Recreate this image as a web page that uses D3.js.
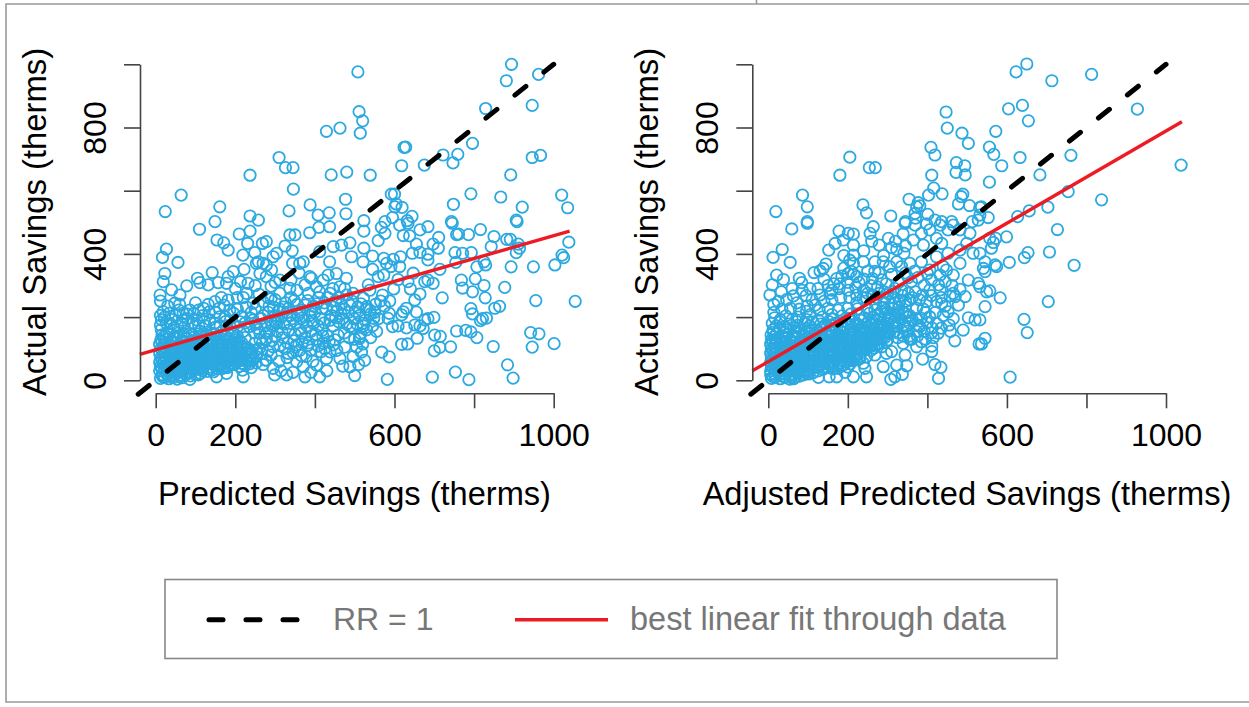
<!DOCTYPE html>
<html>
<head>
<meta charset="utf-8">
<script src="https://cdn.jsdelivr.net/npm/d3@7"></script>
<style>
body { margin: 0; background: #fff; }
text { font-family: "Liberation Sans", sans-serif; }
</style>
</head>
<body>
<svg id="chart" width="1249" height="707"></svg>
<script>
// values, in therms
const ticks = [0, 200, 400, 600, 800, 1000];
const xLabels = [0, 200, 600, 1000];
const yLabels = [0, 400, 800];
const ruleLine = [[-44, -44], [1000, 1000]];
const fitLeft = [[-40, 82], [1040, 472]];
const fitRight = [[-40, 30], [1040, 818]];

const leftSparse = [[24,534],[64,586],[161,549],[149,502],[237,649],[237,520],[258,507],[310,705],[326,673],[345,673],[346,605],[335,536],[388,555],[408,523],[436,530],[478,527],[477,573],[441,650],[480,659],[429,788],[463,798],[508,976],[511,850],[520,821],[514,782],
[894,1000],[881,948],[962,968],[946,870],[829,860],[628,738],[624,737],[796,750],[722,713],[759,715],[747,688],[675,681],[618,679],[539,649],[946,705],[967,712],[892,650],[1020,586],[1035,546],[921,548],[867,580],[792,590],[748,557],[743,502],[906,507],[600,589],[592,589],[604,558],[601,549],[619,547],[644,519],[595,515],[576,502],[632,505],[523,505],
[1038,437],[1021,396],[1025,388],[1003,365],[949,359],[893,359],[1054,250],[955,252],[911,431],[906,404],[914,418],[882,446],[891,446],[850,455],[843,423],[816,477],[786,461],[761,463],[756,461],[745,497],[908,502],[793,404],[771,402],[752,404],[754,373],[829,365],[825,375],[807,359],[803,321],[768,317],[771,292],[796,280],[825,300],[877,294],[828,261],[720,261],[792,227],[796,210],[852,228],[864,234],[831,197],[816,189],[821,195],[756,156],[779,158],[792,153],[807,135],[848,107],[942,151],[963,147],[946,105],[1001,116],[884,49],[898,7],[787,2],[753,26],[695,10],[582,3],[568,89],[587,74],[525,63],[517,89],[741,106],[714,104],[700,93],[701,143],[715,139],[657,133],[633,115],[618,114],[672,164],[664,172],[676,191],[699,199],[684,195],[655,216],[630,228],[622,217],[618,207],[587,212],[584,196],[595,170],[609,172],[630,166],[651,175],[548,196],[520,180],[588,251],[565,251],[570,270],[651,254],[664,273],[640,289],[598,289],[609,319],[634,312],[647,339],[676,312],[684,317],[697,307],[714,351],[684,381],[684,399],[664,405],[645,402],[697,431],[710,418],[711,452],[655,431],[664,476],[684,486],[638,457],[622,458],[613,491],[634,497],[615,391],[613,360],[597,383],[573,386],[580,370],[591,360],[545,393],[545,351],[573,333],[559,328],[521,375],[523,418],[559,442],[576,465],[567,484],[523,472],[534,302],[530,233],[538,222],[513,138],
[110,478],[154,444],[171,435],[182,412],[210,463],[237,472],[231,433],[27,415],[17,389],[56,373],[219,396],[249,404],[268,433],[278,439],[337,460],[350,460],[387,467],[410,484],[437,486],[325,425],[343,410],[304,402],[295,391],[412,407],[446,423],[467,428],[488,435],[492,391],[437,375],[371,375],[344,370],[258,375],[278,365],[222,351],[195,344],[142,341],[23,338],[19,312],[11,270],[12,251],[105,323],[111,309],[132,302],[78,299],[253,370],[270,370],[291,349],[362,370]];

const leftUpper = [[40,286],[61,270],[48,244],[157,309],[182,328],[178,307],[213,312],[232,307],[228,275],[262,338],[278,328],[312,317],[337,291],[387,328],[375,302],[433,333],[421,317],[454,338],[479,323],[463,296],[404,296],[391,323],[496,275],[182,254],[186,222],[149,249],[120,228],[86,222],[69,212],[19,217],[15,191],[36,180],[65,180],[103,191],[136,191],[161,201],[212,185],[245,191],[245,244],[14,160],[28,150],[45,165],[58,150],[72,168],[85,148],[98,170],[112,155],[125,172],[138,150],[150,168],[165,152],[178,172],[192,150],[205,168],[220,155],[235,170],[248,150],[22,200],[50,205],[80,195],[118,205],[150,215],[175,200],[205,225],[240,215],[255,165],[265,195],[283,215],[300,185],[30,235],[100,245],[205,262],[260,272],
[12,175],[26,182],[40,192],[55,172],[68,190],[92,182],[108,172],[122,186],[148,180],[162,172],[176,186],[196,176],[225,182],[238,196],[252,178],[12,205],[34,212],[58,222],[78,210],[96,212],[108,222],[134,216],[160,228],[172,238],[196,212],[216,202],[228,232],[250,226],[270,248],[290,258],[60,240],[132,240],[165,262],[220,262],[340,318],[360,340],[300,310],[250,300],[200,290],[290,298]];

const leftBand = [[279,149],[295,106],[278,64],[295,38],[299,17],[329,17],[333,85],[354,112],[375,11],[371,43],[412,11],[404,48],[429,69],[463,69],[446,112],[488,43],[496,75],[458,143],[488,170],[396,180],[366,149],[337,180],[304,180],[421,117],[391,96],[354,59],[220,11],[218,32],[178,22],[153,11],[145,27],[174,43],[107,17],[86,3],[115,38],[237,64],[253,75],[276,64],
[262,150],[275,172],[288,190],[300,205],[312,225],[326,245],[340,262],[355,240],[368,222],[382,252],[396,235],[410,262],[424,245],[438,275],[452,252],[466,240],[480,270],[494,250],[508,232],[522,260],[538,285],[552,240],[270,205],[285,235],[300,255],[316,200],[330,215],[344,195],[358,205],[372,190],[386,205],[400,215],[414,195],[428,225],[442,205],[456,220],[470,195],[484,215],[498,195],[512,205],[526,190],[540,210],[278,130],[292,125],[306,155],[320,135],[334,158],[348,125],[362,160],[376,135],[390,155],[404,130],[418,158],[432,140],[446,172],[460,185],[474,150],[500,130],[515,148],[530,160],[290,80],[310,60],[325,100],[345,88],[362,95],[378,75],[395,60],[415,90],[438,90],[455,95],[475,105],[505,105],[520,115],[540,135],[555,155],[470,45],[510,50],[260,100],[270,50],[315,30],[345,25],[390,25],[430,30],[500,15],
[308,218],[320,232],[334,228],[348,252],[362,215],[376,238],[390,222],[404,242],[418,228],[432,262],[446,232],[460,262],[474,225],[488,238],[502,218],[516,242],[296,232],[292,172],[306,192],[322,178],[338,205],[352,182],[366,196],[380,172],[394,188],[408,172],[424,182],[438,190],[452,198],[466,210],[480,178],[506,178],[522,172],[318,150],[332,118],[350,145],[368,120],[384,118],[402,145],[420,140],[436,122],[450,128],[486,135],[268,118],[282,92],[300,138],[312,110],[330,72],[350,105],[366,78],[382,110],[408,108],[425,100],[550,215],[530,225],[495,165],[512,132],[545,172],[560,195],[575,235],[282,262],[312,275],[355,285],[384,275],[412,280],[445,290],[475,290],[262,128],[266,85],[285,155]];

const leftCore = [[12,6],[22,10],[33,5],[44,9],[54,4],[66,8],[16,18],[28,20],[40,17],[52,21],[63,16],[75,19],[87,14],[100,18],[112,22],
[10,30],[21,33],[33,28],[45,32],[57,29],[69,34],[81,27],[93,31],[105,35],[118,30],[130,28],[142,33],[155,36],[168,38],
[12,44],[24,46],[37,42],[49,47],[61,43],[73,48],[85,41],[98,46],[110,44],[122,48],[135,42],[147,47],[160,49],[172,45],[185,47],[198,50],[210,44],[224,48],[236,52],
[10,58],[21,60],[33,56],[45,61],[57,57],[69,62],[81,55],[93,60],[105,58],[117,62],[129,56],[141,61],[153,59],[166,63],[178,57],[190,62],[203,59],[215,63],[228,60],[241,62],
[13,72],[25,74],[37,70],[49,75],[61,71],[73,76],[85,69],[97,74],[109,72],[121,76],[133,70],[145,75],[157,73],[170,77],[182,71],[194,76],[207,73],[219,77],[232,74],[245,72],
[10,86],[22,88],[34,84],[46,89],[58,85],[70,90],[82,83],[94,88],[106,86],[118,90],[130,84],[142,89],[154,87],[167,91],[179,85],[191,90],[204,87],[216,91],[229,88],[242,90],
[13,100],[25,102],[37,98],[49,103],[61,99],[73,104],[85,97],[97,102],[109,100],[121,104],[133,98],[145,103],[157,101],[170,105],[182,99],[194,104],[207,101],[219,105],[232,102],
[10,114],[22,116],[34,112],[46,117],[58,113],[70,118],[82,111],[94,116],[106,114],[118,118],[130,112],[142,117],[154,115],[167,119],[179,113],[191,118],[204,115],[216,119],
[13,128],[26,130],[39,126],[52,131],[65,127],[78,132],[91,126],[104,130],[117,128],[130,132],[143,127],[156,131],[170,129],[184,133],[198,128],
[16,144],[34,146],[52,141],[70,147],[92,143],[110,147],[130,142],[150,146],[172,144],[195,148],[225,135],
[17,12],[38,12],[60,12],[82,22],[15,38],[39,37],[63,38],[87,36],[111,38],[136,36],[160,42],[180,40],[18,52],[43,53],[67,53],[91,53],[116,54],[141,52],[165,55],[192,54],[217,54],[240,40],[16,65],[39,66],[63,67],[87,65],[111,66],[135,64],[160,67],[184,67],[210,68],[236,67],[19,80],[43,80],[67,81],[91,79],[115,81],[139,80],[163,82],[188,81],[212,83],[238,81],[16,94],[40,94],[64,95],[88,93],[112,95],[136,93],[160,96],[185,95],[210,96],[236,96],[19,108],[43,108],[67,109],[91,108],[115,109],[139,108],[163,110],[188,109],[213,111],[16,122],[40,122],[64,123],[88,121],[112,123],[136,122],[160,124],[185,123],[210,125],[20,137],[45,137],[71,139],[98,137],[124,138],[150,137],[177,138],[205,140],[250,118],[252,96],[252,55]];

const rightSparse = [[19,534],[86,586],[98,549],[98,502],[180,649],[205,706],[254,673],[269,673],[238,555],[247,530],[308,520],[345,502],[354,573],[377,562],[373,549],[381,552],[369,528],[370,513],[401,525],[419,507],[436,502],[461,502],[403,586],[416,608],[437,590],[411,649],[409,737],[419,713],[473,689],[494,679],[472,658],[495,650],[489,589],[485,581],[478,558],[506,553],[532,547],[513,502],[528,507],[447,849],[450,798],[487,782],[503,750],
[650,1001],[623,976],[713,948],[813,968],[928,858],[639,870],[604,859],[654,821],[572,788],[556,738],[567,715],[633,705],[587,679],[761,712],[556,627],[683,650],[1038,681],[754,597],[838,571],[703,548],[656,536],[627,518],[553,515],[536,549],[532,523],
[727,477],[599,454],[572,449],[566,436],[561,418],[557,449],[653,404],[644,388],[707,406],[769,364],[606,373],[574,360],[570,365],[545,375],[545,344],[541,354],[532,402],[557,283],[549,280],[583,261],[545,233],[704,249],[643,193],[651,151],[545,133],[536,115],[608,10],[532,296],[532,191],
[59,479],[98,497],[35,414],[12,389],[55,373],[21,333],[10,302],[38,319],[4,270],[33,280],[63,267],[78,323],[84,309],[115,341],[130,346],[145,368],[138,354],[152,412],[168,433],[178,472],[189,444],[201,465],[214,463],[214,428],[214,396],[214,370],[239,375],[201,338],[222,328],[256,465],[264,486],[279,428],[302,449],[323,414],[339,463],[344,497],[268,375],[289,375],[341,402],[323,375],[356,370],[365,444],[385,465],[390,428],[406,476],[423,449],[436,433],[452,476],[482,476],[507,465],[369,491],[398,495],[432,491],[465,491],[499,433],[515,402],[482,412],[452,402],[482,370],[448,349],[423,391],[385,375],[406,349],[432,333],[465,333],[503,317],[528,307],[482,288],[457,267],[478,238],[452,217],[432,286],[406,286],[423,249],[398,249],[436,243],[503,198],[520,191],[490,159],[469,125],[530,115],[427,149],[423,180],[406,201],[385,196],[381,170],[356,180],[344,212],[373,228],[356,254],[331,254],[314,280],
[411,108],[411,91],[385,122],[373,106],[356,130],[339,117],[344,80],[388,67],[419,50],[434,41],[428,6],[323,48],[289,43],[348,46],[337,19],[318,11],[308,3],[310,91],[297,85],[268,80],[247,11],[214,11],[193,25],[172,11],[153,11],[126,9],[63,5],[101,20],[239,54],[230,69],[247,75],[243,38],[260,122],[289,138],[281,159],[297,122],[285,106]];

const rightUpper = [[14,240],[46,255],[72,245],[95,268],[125,290],[150,300],[172,322],[190,355],[208,345],[228,310],[250,345],[262,322],[278,340],[296,305],[310,335],[328,310],[345,340],[360,312],[376,325],[392,300],[410,318],[428,302],[445,312],[462,300],[240,285],[258,300],[275,295],[292,280],[110,255],[130,270],[155,275],[178,290],[200,285],[222,270],[238,260],[14,215],[34,225],[56,228],[78,225],[98,235],[118,238],[140,250],[160,255],[182,262],[205,262],[222,245],[245,262],[262,270],[280,275],[300,275],[318,290],[335,285],[352,275],[370,280],[388,270],[270,240],[290,245],[310,240],[328,230],[345,235],[390,225],[420,215],[445,235],[470,265],[300,215],[320,205],[338,215],[355,205],[372,195],[395,215],[412,165],[392,155],[372,155],[350,155],[325,180],[345,170],[305,190],[290,175],[305,150],[325,150],[340,140],[360,130],[375,140],[395,130],[415,135],
[165,305],[185,330],[215,335],[240,320],[268,345],[285,318],[305,360],[335,360],[352,325],[368,345],[400,338],[440,360],[240,410],[260,440],[290,395],[310,420],[205,380],[190,395],[320,440],[345,425],[25,250],[60,290],[85,285],[105,290],[140,320],[160,285],[180,305],[200,310],[220,295],[250,275],[272,262],[295,262],[315,262],[338,268],[362,262],[380,255],[345,250],[410,268],[435,262],[362,190],[378,175],[400,182],[355,140],[325,135],[440,205],[465,195],[455,175],[435,165],[458,155],[410,150],[465,275],[495,265]];

const rightCore = [[8,6],[18,10],[30,5],[42,9],[54,4],[66,8],[78,13],[6,18],[16,20],[28,17],[40,21],[52,16],[64,19],[76,22],[88,17],[100,28],[112,24],[125,30],
[6,30],[17,33],[29,28],[41,32],[53,29],[65,34],[77,27],[89,31],[101,35],[113,38],[125,42],[137,35],[150,40],[162,36],[175,38],
[8,44],[20,46],[32,42],[44,47],[56,43],[68,48],[80,41],[92,46],[104,50],[116,52],[128,48],[140,54],[152,50],[164,56],[176,52],[188,48],[200,42],
[6,58],[17,60],[29,56],[41,61],[53,57],[65,62],[77,55],[89,60],[101,64],[113,62],[125,66],[137,60],[149,66],[161,62],[173,68],[185,62],[197,58],[209,62],[222,65],
[8,72],[20,74],[32,70],[44,75],[56,71],[68,76],[80,69],[92,74],[104,78],[116,76],[128,80],[140,74],[152,80],[164,76],[176,82],[188,76],[200,72],[212,78],[224,84],[236,90],
[6,86],[17,88],[29,84],[41,89],[53,85],[65,90],[77,83],[89,88],[101,92],[113,90],[125,94],[137,88],[149,94],[161,90],[173,96],[185,90],[197,86],[209,92],[221,98],[233,104],[245,98],[258,95],
[8,100],[20,102],[32,98],[44,103],[56,99],[68,104],[80,97],[92,102],[104,106],[116,104],[128,108],[140,102],[152,108],[164,104],[176,110],[188,104],[200,100],[212,106],[224,112],[236,118],[248,112],[260,108],[272,112],
[6,114],[17,116],[29,112],[41,117],[53,113],[65,118],[77,111],[89,116],[101,120],[113,118],[125,122],[137,116],[149,122],[161,118],[173,124],[185,118],[197,114],[209,120],[221,126],[233,132],[245,126],[257,130],[269,126],[281,130],[293,135],
[8,128],[20,130],[32,126],[44,131],[56,127],[68,132],[80,125],[92,130],[104,134],[116,132],[128,136],[140,130],[152,136],[164,132],[176,138],[188,132],[200,128],[212,134],[224,140],[236,146],[248,140],[260,144],[272,140],[284,146],[296,150],
[7,144],[20,146],[34,141],[48,147],[62,143],[76,148],[90,142],[104,148],[118,144],[132,150],[146,145],[160,150],[174,146],[188,152],[202,147],[216,153],[230,158],[244,153],[258,158],[272,154],[286,160],[300,165],[314,170],
[12,160],[28,164],[46,158],[64,166],[82,160],[100,164],[118,160],[136,166],[154,162],[172,168],[190,164],[208,170],[226,172],[244,168],[262,174],[280,170],[298,180],[316,185],[334,192],
[10,180],[30,184],[52,178],[72,186],[92,180],[112,184],[132,178],[152,186],[172,182],[192,186],[212,186],[232,190],[252,186],[272,192],[292,198],
[16,198],[44,204],[76,200],[106,208],[136,200],[160,208],[186,204],[208,210],[230,206],[254,212],[276,208],[296,222],[315,228],
[96,218],[128,222],[150,228],[176,222],[200,228],[224,226],[248,228],[268,222],[290,230],
[12,12],[36,13],[58,12],[72,24],[95,24],[12,38],[35,37],[59,38],[83,36],[107,44],[131,52],[158,46],[182,44],[14,52],[38,52],[62,54],[86,52],[110,58],[134,67],[158,56],[182,56],[206,52],[230,75],[12,66],[35,66],[59,67],[83,66],[107,70],[131,72],[155,73],[179,74],[203,68],[218,72],[244,104],[14,80],[38,80],[62,81],[86,81],[110,84],[134,82],[158,84],[182,84],[206,82],[230,96],[254,108],[12,94],[35,94],[59,95],[83,95],[107,98],[131,98],[155,98],[179,98],[203,94],[227,106],[251,120],[266,102],[14,108],[38,108],[62,109],[86,109],[110,112],[134,110],[158,112],[182,112],[206,113],[230,122],[254,118],[278,118],[12,122],[35,122],[59,123],[83,123],[107,127],[131,126],[155,128],[179,128],[203,124],[227,134],[251,134],[275,134],[300,128],[14,137],[38,136],[62,137],[86,137],[110,140],[134,140],[158,140],[182,142],[206,138],[230,150],[254,150],[278,150],[302,150],[318,155],[13,152],[40,153],[68,156],[96,153],[124,156],[152,156],[180,158],[208,160],[236,166],[265,165],[292,170],[322,172],[340,175],[20,172],[42,170],[74,174],[104,172],[144,176],[162,176],[202,178],[222,180],[262,184],[284,182],[308,198],[328,210],[350,200],[30,192],[60,192],[96,192],[126,190],[164,194],[202,196],[242,198],[264,200],[284,218],[306,212],[328,245]];

const svg = d3.select("#chart");
const panels = [
  {x0: 155.7, x1: 553.7, axisX: 140, points: leftSparse.concat(leftUpper, leftBand, leftCore), fit: fitLeft,
   xTitle: "Predicted Savings (therms)", titleX: 354.5},
  {x0: 768.3, x1: 1166, axisX: 752.3, points: rightSparse.concat(rightUpper, rightCore), fit: fitRight,
   xTitle: "Adjusted Predicted Savings (therms)", titleX: 967}
];
const y = d3.scaleLinear().domain([0, 1000]).range([380.3, 64.3]);
const axisY = 393.3;
const blue = "#2ba9e0";

// outer frame
svg.append("path")
  .attr("d", "M1249,4H6V702H1249M756.5,0V4")
  .attr("fill", "none").attr("stroke", "#999").attr("stroke-width", 1.6);

panels.forEach(p => {
  const x = d3.scaleLinear().domain([0, 1000]).range([p.x0, p.x1]);
  const line = d3.line().x(d => x(d[0])).y(d => y(d[1]));
  const g = svg.append("g");

  g.selectAll("circle")
    .data(p.points)
    .enter()
    .append("circle")
      .attr("cx", d => x(d[0]))
      .attr("cy", d => y(d[1]))
      .attr("r", 5.7)
      .attr("fill", "none")
      .attr("stroke", blue)
      .attr("stroke-width", 1.8);

  g.append("path")
    .attr("d", line(ruleLine))
    .attr("fill", "none").attr("stroke", "#000").attr("stroke-width", 5)
    .attr("stroke-linecap", "round").attr("stroke-dasharray", "14,23");
  g.append("path")
    .attr("d", line(p.fit))
    .attr("fill", "none").attr("stroke", "#ed1c24").attr("stroke-width", 3.4);

  // axes
  const xAxis = d3.axisBottom(x).tickValues(ticks).tickSize(15).tickSizeOuter(0)
    .tickFormat(d => xLabels.includes(d) ? d : "");
  const gx = svg.append("g").attr("transform", `translate(0,${axisY})`).call(xAxis);
  const yAxis = d3.axisLeft(y).tickValues(ticks).tickSize(16).tickSizeOuter(0)
    .tickFormat(d => yLabels.includes(d) ? d : "");
  const gy = svg.append("g").attr("transform", `translate(${p.axisX},0)`).call(yAxis);
  [gx, gy].forEach(a => {
    a.selectAll("path,line").attr("stroke", "#444").attr("stroke-width", 1.6);
    a.selectAll("text").attr("fill", "#000").style("font-size", "32px").style("font-family", '"Liberation Sans", sans-serif');
  });
  gx.selectAll("text").attr("y", 30).attr("dy", "0.71em");
  gy.selectAll("text")
    .attr("x", 0).attr("y", -34).attr("dy", 0)
    .attr("text-anchor", "middle")
    .attr("transform", "rotate(-90)");

  svg.append("text")
    .attr("x", p.titleX).attr("y", 505)
    .attr("text-anchor", "middle")
    .style("font-size", "32.6px")
    .text(p.xTitle);
  svg.append("text")
    .attr("transform", `translate(${p.axisX - 94},222) rotate(-90)`)
    .attr("text-anchor", "middle")
    .style("font-size", "32.8px")
    .text("Actual Savings (therms)");
});

// legend
svg.append("rect")
  .attr("x", 165).attr("y", 579.5).attr("width", 892).attr("height", 79)
  .attr("fill", "#fff").attr("stroke", "#888").attr("stroke-width", 1.6);
svg.append("line")
  .attr("x1", 209).attr("x2", 298).attr("y1", 619.7).attr("y2", 619.7)
  .attr("stroke", "#000").attr("stroke-width", 5)
  .attr("stroke-linecap", "round").attr("stroke-dasharray", "14,23");
svg.append("line")
  .attr("x1", 515).attr("x2", 608).attr("y1", 619.7).attr("y2", 619.7)
  .attr("stroke", "#ed1c24").attr("stroke-width", 3.4);
svg.append("text").attr("x", 333).attr("y", 630).attr("fill", "#777").style("font-size", "32px").text("RR = 1");
svg.append("text").attr("x", 630).attr("y", 630).attr("fill", "#777").style("font-size", "32.5px").text("best linear fit through data");
</script>
</body>
</html>
